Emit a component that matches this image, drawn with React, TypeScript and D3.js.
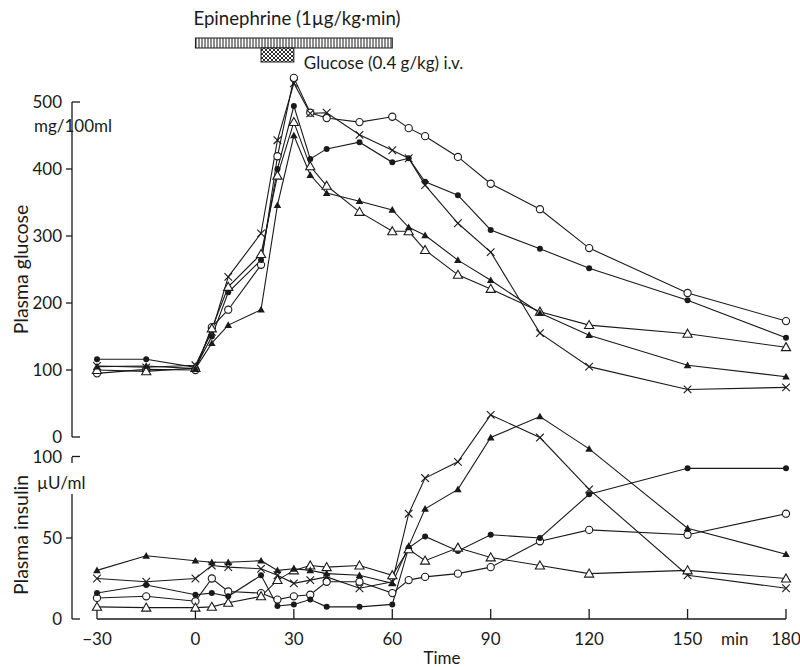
import React from "react";
import * as d3 from "d3";

// ---- Data ----
const times = [-30, -15, 0, 5, 10, 20, 25, 30, 35, 40, 50, 60, 65, 70, 80, 90, 105, 120, 150, 180];

// Plasma glucose (mg/100ml)
const glucoseOpenCircle = [95, 101, 100, 164, 190, 257, 419, 536, 484, 476, 470, 478, 461, 449, 418, 378, 340, 282, 215, 173];
const glucoseFilledCircle = [116, 116, 104, 150, 216, 264, 400, 494, 415, 430, 440, 410, 416, 381, 361, 309, 281, 252, 204, 148];
const glucoseCross = [106, 104, 107, 157, 239, 304, 443, 528, 483, 484, 451, 428, 416, 376, 319, 276, 155, 105, 71, 74];
const glucoseOpenTriangle = [100, 98, 103, 162, 224, 273, 390, 470, 404, 375, 336, 307, 307, 279, 242, 221, 187, 167, 154, 134];
const glucoseFilledTriangle = [105, 106, 102, 140, 167, 190, 346, 450, 391, 364, 352, 339, 313, 301, 264, 234, 185, 152, 107, 90];

// Plasma insulin (µU/ml)
const insulinOpenCircle = [13, 14, 11, 25, 17, 16, 12, 14, 15, 23, 23, 16, 24, 26, 28, 32, 48, 55, 52, 65];
const insulinFilledCircle = [16, 21, 15, 16, 14, 27, 8, 9, 12, 7.5, 7.5, 9, 44, 51, 42, 52, 50, 77, 93, 93];
const insulinCross = [25, 23, 25, 33, 32, 31, 27, 22, 24, 26, 19, 23, 65, 87, 97, 126, 112, 80, 27, 19];
const insulinOpenTriangle = [7.5, 7, 7, 7.5, 10, 14, 24, 30, 33, 32, 33, 27, 43, 36, 44, 38, 33, 28, 30, 25];
const insulinFilledTriangle = [30, 39, 36, 35, 35, 36, 30, 31, 30, 28, 27, 22, 45, 68, 80, 112, 125, 105, 56, 40];

const xTicks = [-30, 0, 30, 60, 90, 120, 150, 180];
const glucoseTicks = [0, 100, 200, 300, 400, 500];
const insulinTicks = [0, 50, 100];

const epinephrineWindow = [0, 60];
const glucoseWindow = [20, 30];

type MarkerType = "oc" | "fc" | "x" | "ot" | "ft";

const glucoseSeries: { type: MarkerType; values: number[] }[] = [
  { type: "oc", values: glucoseOpenCircle },
  { type: "fc", values: glucoseFilledCircle },
  { type: "x", values: glucoseCross },
  { type: "ot", values: glucoseOpenTriangle },
  { type: "ft", values: glucoseFilledTriangle },
];
const insulinSeries: { type: MarkerType; values: number[] }[] = [
  { type: "oc", values: insulinOpenCircle },
  { type: "fc", values: insulinFilledCircle },
  { type: "x", values: insulinCross },
  { type: "ot", values: insulinOpenTriangle },
  { type: "ft", values: insulinFilledTriangle },
];

const INK = "#1a1a1a";
const FONT = "Lato, 'DejaVu Sans', sans-serif";

function Marker({ type, cx, cy }: { type: MarkerType; cx: number; cy: number }) {
  switch (type) {
    case "oc":
      return <circle cx={cx} cy={cy} r={3.6} fill="#fff" stroke={INK} strokeWidth={1.1} />;
    case "fc":
      return <circle cx={cx} cy={cy} r={3} fill={INK} />;
    case "x": {
      const s = 3.8;
      return (
        <g stroke={INK} strokeWidth={1.1}>
          <line x1={cx - s} y1={cy - s} x2={cx + s} y2={cy + s} />
          <line x1={cx - s} y1={cy + s} x2={cx + s} y2={cy - s} />
        </g>
      );
    }
    case "ot": {
      const s = 4.6;
      return (
        <path
          d={`M${cx},${cy - s} L${cx + s},${cy + s * 0.75} L${cx - s},${cy + s * 0.75} Z`}
          fill="#fff"
          stroke={INK}
          strokeWidth={1.1}
        />
      );
    }
    case "ft": {
      const s = 3.8;
      return (
        <path d={`M${cx},${cy - s} L${cx + s},${cy + s * 0.75} L${cx - s},${cy + s * 0.75} Z`} fill={INK} />
      );
    }
  }
  return null;
}

export default function App() {
  const W = 800;
  const H = 667;
  const x = d3.scaleLinear().domain([-30, 180]).range([97, 786]);
  const yG = d3.scaleLinear().domain([0, 500]).range([437, 102]);
  const yI = d3.scaleLinear().domain([0, 100]).range([619, 457]);
  const axisX = 72;

  const lineG = d3
    .line<number>()
    .x((_, i) => x(times[i]))
    .y((d) => yG(d));
  const lineI = d3
    .line<number>()
    .x((_, i) => x(times[i]))
    .y((d) => yI(d));

  const fs = 17;
  const fsTitle = 19.5;

  return (
    <svg
      width={W}
      height={H}
      viewBox={`0 0 ${W} ${H}`}
      style={{ position: "absolute", left: 0, top: 0, background: "#fff" }}
      fontFamily={FONT}
    >
      <defs>
        <pattern id="vhatch" width="3" height="10" patternUnits="userSpaceOnUse">
          <rect width="3" height="10" fill="#fff" />
          <line x1="1" y1="0" x2="1" y2="10" stroke={INK} strokeWidth="1" />
        </pattern>
        <pattern id="xhatch" width="4" height="4" patternUnits="userSpaceOnUse">
          <rect width="4" height="4" fill="#fff" />
          <path d="M0,0 L4,4 M4,0 L0,4" stroke={INK} strokeWidth="0.9" />
        </pattern>
      </defs>
      <rect width={W} height={H} fill="#fff" />

      {/* Header: infusion bars */}
      <text x={x(epinephrineWindow[0]) - 2} y={25} fontSize={18.6} fill={INK}>
        Epinephrine (1µg/kg·min)
      </text>
      <rect
        x={x(epinephrineWindow[0])}
        y={38}
        width={x(epinephrineWindow[1]) - x(epinephrineWindow[0])}
        height={10}
        fill="url(#vhatch)"
        stroke={INK}
        strokeWidth={1}
      />
      <rect
        x={x(glucoseWindow[0])}
        y={48}
        width={x(glucoseWindow[1]) - x(glucoseWindow[0])}
        height={14}
        fill="url(#xhatch)"
        stroke={INK}
        strokeWidth={1}
      />
      <text x={x(glucoseWindow[1]) + 10} y={69} fontSize={fs} fill={INK}>
        Glucose (0.4 g/kg) i.v.
      </text>

      {/* Glucose axis */}
      <g stroke={INK} strokeWidth={1.3} fill="none">
        <line x1={axisX} y1={yG(500)} x2={axisX} y2={yG(0)} />
        <line x1={axisX} y1={yG(500)} x2={axisX + 8} y2={yG(500)} />
        <line x1={axisX} y1={yG(0)} x2={axisX + 8} y2={yG(0)} />
        {glucoseTicks
          .filter((t) => t !== 0 && t !== 500)
          .map((t) => (
            <line key={t} x1={axisX} y1={yG(t)} x2={axisX - 6} y2={yG(t)} />
          ))}
      </g>
      {glucoseTicks.map((t) => (
        <text key={t} x={62} y={yG(t) + 6} fontSize={fs} textAnchor="end" fill={INK}>
          {t}
        </text>
      ))}
      <text x={34} y={132} fontSize={fs} fill={INK}>
        mg/100ml
      </text>
      <text
        transform={`translate(28,${yG(250)}) rotate(-90)`}
        fontSize={fsTitle}
        textAnchor="middle"
        fill={INK}
      >
        Plasma glucose
      </text>

      {/* Insulin axis */}
      <g stroke={INK} strokeWidth={1.3} fill="none">
        <line x1={axisX} y1={yI(100)} x2={axisX} y2={yI(100) + 6} />
        <line x1={axisX} y1={yI(100) - 0.5} x2={axisX + 8} y2={yI(100) - 0.5} />
        <line x1={axisX} y1={494} x2={axisX} y2={yI(0)} />
        <line x1={axisX} y1={yI(0)} x2={axisX + 8} y2={yI(0)} />
        <line x1={axisX} y1={yI(50)} x2={axisX - 6} y2={yI(50)} />
      </g>
      {insulinTicks.map((t) => (
        <text key={t} x={62} y={yI(t) + 6} fontSize={fs} textAnchor="end" fill={INK}>
          {t}
        </text>
      ))}
      <text x={37} y={489} fontSize={fs} fill={INK}>
        µU/ml
      </text>
      <text
        transform={`translate(28,${yI(50) - 3}) rotate(-90)`}
        fontSize={fsTitle}
        textAnchor="middle"
        fill={INK}
      >
        Plasma insulin
      </text>

      {/* X axis */}
      <g stroke={INK} strokeWidth={1.3}>
        <line x1={x(-30)} y1={yI(0)} x2={x(180)} y2={yI(0)} />
        {xTicks.map((t) => (
          <line key={t} x1={x(t)} y1={yI(0)} x2={x(t)} y2={yI(0) - 10} />
        ))}
      </g>
      {xTicks.map((t) => (
        <text key={t} x={x(t)} y={645} fontSize={fs} textAnchor="middle" fill={INK}>
          {t < 0 ? `\u2212${Math.abs(t)}` : t}
        </text>
      ))}
      <text x={x(165) - 2} y={645} fontSize={fs} textAnchor="middle" fill={INK}>
        min
      </text>
      <text x={442} y={664} fontSize={fs} textAnchor="middle" fill={INK}>
        Time
      </text>

      {/* Lines */}
      <g fill="none" stroke={INK} strokeWidth={1.1}>
        {glucoseSeries.map((s) => (
          <path key={s.type} d={lineG(s.values) || ""} />
        ))}
        {insulinSeries.map((s) => (
          <path key={s.type} d={lineI(s.values) || ""} />
        ))}
      </g>
      {glucoseSeries.map((s) =>
        s.values.map((v, i) => <Marker key={`g${s.type}${i}`} type={s.type} cx={x(times[i])} cy={yG(v)} />)
      )}
      {insulinSeries.map((s) =>
        s.values.map((v, i) => <Marker key={`i${s.type}${i}`} type={s.type} cx={x(times[i])} cy={yI(v)} />)
      )}
    </svg>
  );
}
